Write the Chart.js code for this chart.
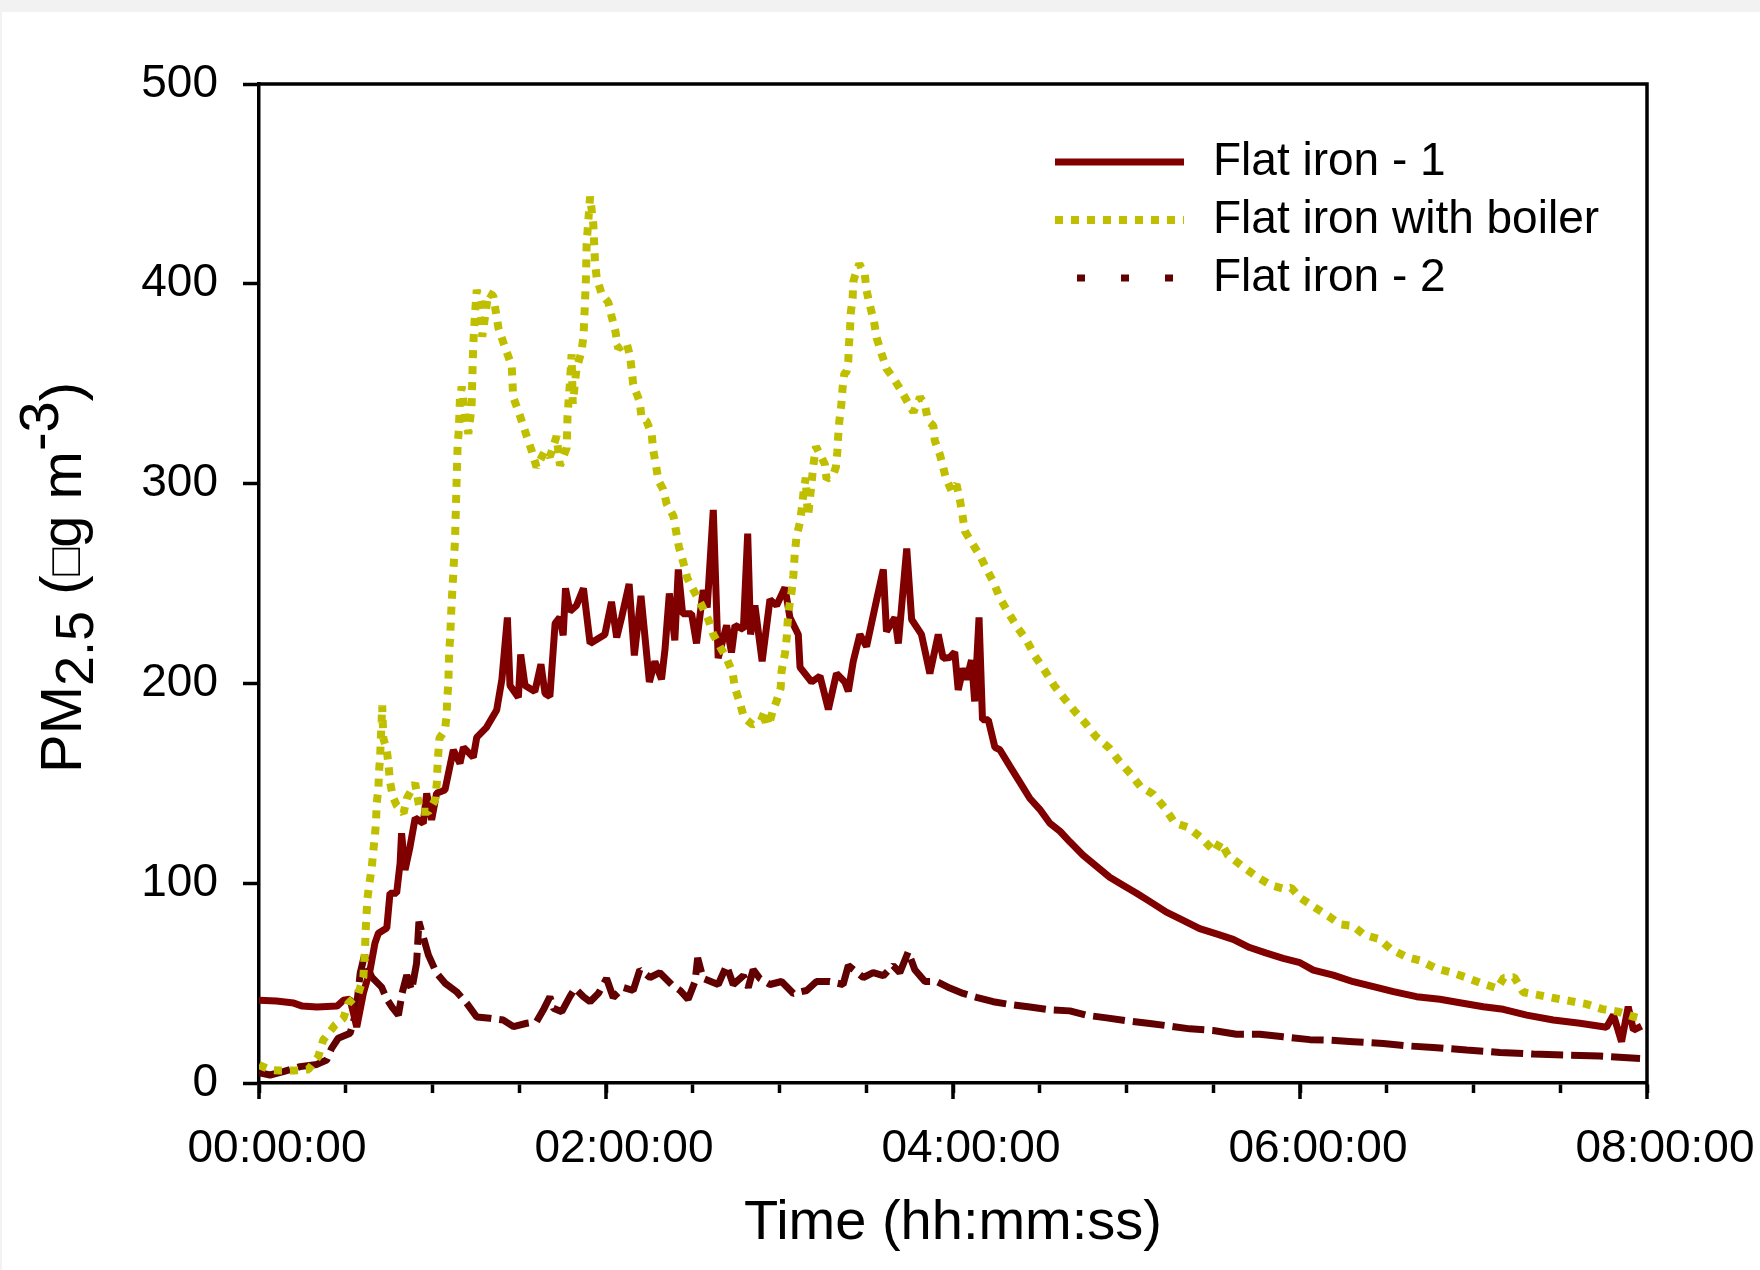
<!DOCTYPE html>
<html>
<head>
<meta charset="utf-8">
<script src="https://cdn.jsdelivr.net/npm/chart.js@4.4.1/dist/chart.umd.min.js"></script>
<style>
  html, body { margin: 0; padding: 0; background: #f2f2f2; }
  #wrap { position: absolute; left: 2px; top: 12px; width: 1758px; height: 1258px; background: #fff; }
</style>
</head>
<body>
<div id="wrap"><canvas id="chart" width="1758" height="1258"></canvas></div>
<script>
const seriesNames = ['Flat iron - 1', 'Flat iron with boiler', 'Flat iron - 2'];
const timeTickLabels = ['00:00:00', '02:00:00', '04:00:00', '06:00:00', '08:00:00'];

// minutes since start / PM2.5 values
const ironOneMinutes = [0, 6, 12, 15, 20, 27, 29.2, 31.5, 33.8, 36.1, 38.4, 40.1, 41.3, 44.2, 45.3, 47.6, 48.8, 49.3, 50.5, 52.2, 54, 56.8, 58, 59.7, 61.4, 64.3, 67.2, 69.5, 70.7, 74.1, 75.3, 78.7, 82.2, 84, 85.9, 86.8, 89.7, 90.5, 92, 95.4, 97.5, 98.9, 100.6, 102.4, 104, 105.2, 106, 107.5, 109.8, 112.2, 114.5, 117.9, 119.6, 121.9, 123.7, 125.4, 128, 129.8, 132.1, 135, 136.9, 139.2, 140.4, 141.9, 143.8, 145, 146.5, 149.6, 151.3, 153.6, 155, 157.1, 158.8, 161.7, 163.4, 164.6, 167.5, 169, 170, 171.5, 174, 176.7, 179, 181.9, 183.6, 186.5, 187.1, 191.1, 194, 196.9, 199.7, 202.6, 203.8, 205.5, 207.8, 210.1, 213.6, 215.9, 217, 219.9, 221.1, 224, 225.7, 229.1, 232, 234.9, 236.6, 238.9, 240.6, 241.8, 243.5, 244.7, 246.4, 247.5, 249, 250.2, 252.2, 254.5, 256.2, 259.6, 263.1, 266.6, 270, 273.5, 277, 280.4, 285, 289.6, 294.2, 298.8, 303.5, 308, 313.8, 319.6, 325.3, 331.1, 336.9, 342.6, 348.4, 354.2, 360, 364.6, 371.5, 378.4, 385.4, 392.3, 400.3, 408.4, 415.3, 423.4, 430.3, 438.4, 447.6, 456.8, 466, 468.4, 471.2, 473.5, 475.3, 478.1];
const ironOneValues = [41.4, 41, 40, 38.5, 38, 38.5, 41.4, 42, 28, 45, 56.5, 70, 75, 77.6, 95, 95, 110, 125, 106.6, 118, 132.6, 130, 145, 131.7, 145, 146.6, 166.7, 160, 168, 163, 173, 178, 186.7, 202, 233, 199, 193, 214.5, 199, 196, 209.6, 195, 193.5, 230, 233, 224, 247.6, 236, 239, 247.6, 220, 223, 224.5, 240.8, 223, 233, 249.7, 214, 243.8, 200.7, 211, 202, 217, 245, 221.5, 257, 234.8, 234.8, 220, 246.7, 238, 286.8, 212.6, 229, 215.5, 229, 227, 275, 224.5, 239, 211, 242, 239, 248, 233, 224.5, 208, 200.7, 203.7, 187, 205, 200.7, 196, 211, 224.5, 218.5, 242, 257, 226, 233, 220, 267.5, 232, 224.5, 205, 224.5, 212.6, 213, 215.7, 196.7, 207.5, 202, 211.6, 191, 233, 181.8, 181.8, 168, 166.8, 158.7, 150.6, 142.4, 137, 130, 126, 120.7, 114, 108.5, 103, 99, 95, 90.9, 85.5, 81.4, 77.3, 74.6, 71.9, 67.8, 65, 62.4, 60.2, 56.5, 54, 50.7, 48.2, 45.7, 43.2, 41.9, 40.2, 38.2, 36.9, 34, 31.5, 29.9, 27.9, 34, 20.7, 38.2, 26.5, 28.5];

const boilerMinutes = [0, 4, 7.3, 11.9, 17.1, 20.5, 22.2, 26.3, 29.2, 30.9, 34.4, 36.1, 36.7, 36.9, 37.5, 38.2, 39, 39.5, 40.1, 40.5, 40.7, 41.3, 41.5, 41.9, 42.1, 42.4, 42.6, 43, 44.2, 44.8, 45.3, 46.3, 47.6, 50, 51.1, 54, 55.7, 58.6, 60.9, 61.5, 61.7, 62, 62.4, 64.3, 64.9, 65.1, 65.5, 65.6, 65.8, 66.1, 66.6, 67.2, 67.8, 68.1, 68.4, 68.7, 69.1, 69.5, 70.1, 71.2, 72.4, 73.5, 73.8, 74.1, 74.7, 75.3, 76.4, 77.2, 79.3, 81, 82.8, 84.5, 87.4, 87.9, 89.7, 92.6, 94.3, 96, 98.9, 100.6, 102.9, 104.1, 106.4, 106.7, 107.5, 108.1, 108.5, 109.8, 111.5, 112.2, 112.7, 113.1, 113.3, 114.5, 115.6, 116.2, 116.8, 118.5, 119, 120.8, 121.9, 123.3, 124.2, 127.1, 128.3, 128.9, 129.4, 131.7, 132.3, 134, 135.8, 136.3, 137.3, 138.1, 139.8, 141, 143.3, 144.2, 145.2, 146.7, 148.1, 150.8, 153, 155.4, 157.1, 158.8, 161.7, 163.8, 164.6, 166.3, 167.7, 170.7, 173.6, 175, 176.3, 177.6, 179, 180.4, 180.7, 181.9, 182.5, 182.8, 183.4, 184.2, 184.8, 185.3, 185.9, 187.1, 187.9, 188.4, 189.1, 189.4, 189.9, 191.7, 192.6, 195.7, 196.3, 198.6, 199.5, 200, 200.3, 200.7, 201.4, 201.8, 202.4, 203.2, 203.8, 204, 204.4, 204.6, 205.3, 205.5, 206.1, 207.6, 209.5, 210.1, 211.3, 212.7, 213.6, 215.3, 217, 219.3, 221.6, 224.5, 226.3, 228.6, 230.3, 231.4, 233.2, 233.7, 235.5, 237.5, 239.5, 241.2, 242.4, 243.3, 244.1, 246.7, 249.6, 251.6, 253.9, 256.2, 259.1, 262.3, 265.4, 268.3, 271.8, 275, 278.4, 281.9, 285.6, 289.3, 294, 297.3, 301.5, 304.8, 309.2, 313.2, 316.7, 321.3, 325.9, 330.5, 332.5, 335.1, 340.1, 345.2, 349.9, 354.7, 357, 360, 364.8, 369.8, 373.8, 378.2, 382.2, 387.3, 391.4, 396.7, 401.7, 407, 412.2, 417.3, 422.8, 428.2, 430.5, 434.1, 437.2, 442.6, 448.2, 453.6, 459.1, 464.5, 470, 475.3, 478.5];
const boilerValues = [9, 6.5, 6.2, 6.2, 6.8, 13.2, 21.5, 29, 32.4, 39.9, 44.9, 53.2, 68.2, 76.6, 92.4, 100, 108, 115.8, 124, 131.6, 140, 147.5, 155.8, 163.4, 171.7, 180.8, 189, 172.5, 166.6, 159, 150.8, 143.3, 139, 135, 142.4, 150, 135.8, 135.8, 141.6, 150, 157.5, 165, 172.5, 176.6, 184, 192.5, 200, 208, 216.7, 222.7, 240, 255, 272.5, 288.6, 304.7, 319.5, 326.7, 342.8, 348.6, 334, 325, 338, 354.5, 369.7, 385, 397, 389.6, 373.5, 395.4, 394, 377.9, 370.6, 358.9, 343.3, 336.3, 323.7, 316.4, 308.2, 316.4, 313.5, 323.7, 309, 317.9, 334, 350, 364.7, 340, 357.4, 366, 373.5, 389.6, 404, 420, 443.7, 430, 410.7, 402.8, 394.9, 394, 390.7, 383.9, 375.9, 367.6, 370.5, 364, 356.6, 349.7, 340.8, 332.8, 331.3, 324.8, 317, 309, 301.7, 297, 289.8, 283.8, 276.4, 268.4, 260.7, 252.7, 245.2, 239.3, 231.9, 224.5, 220, 212.6, 205.2, 197.7, 190.3, 182.9, 179.3, 181.4, 186.5, 179, 185.9, 191.2, 197.7, 206, 215, 223, 230.4, 238.7, 246.1, 254.1, 265.4, 273.4, 280.9, 289.8, 297.2, 303, 292.7, 283.8, 309, 318.6, 309.7, 302.2, 304.6, 308.2, 315.9, 323.9, 331.3, 339.7, 347.7, 355, 356, 361.6, 369.3, 377.4, 384.8, 393, 401, 404, 410, 404.7, 396.7, 389, 381, 373, 365, 357.5, 353, 347.7, 340.2, 335.8, 343.2, 339.4, 331.3, 329, 321.5, 314.4, 303, 296.3, 299.6, 291.9, 283.8, 276.2, 270, 263.2, 257.2, 251, 242.8, 235.5, 227.9, 221.7, 213.8, 206.2, 198.9, 192.6, 186.4, 180.4, 173.6, 167.7, 161.4, 154.6, 148.4, 144.6, 137.8, 130.2, 128, 122.6, 115.8, 120.7, 114, 108.5, 103.1, 99, 97.1, 97.7, 92.8, 88.2, 83.6, 79.4, 78.7, 74.1, 72.1, 67, 63.2, 61.2, 57.4, 55.4, 52.9, 49.9, 47.4, 52.7, 52.9, 45.4, 44, 42.4, 41, 39.5, 37, 35.7, 33.2, 32];

const ironTwoMinutes = [0, 3.8, 8.4, 14.2, 20, 23.4, 25.1, 27.4, 31.5, 33.5, 35, 36.5, 37.5, 39, 42.4, 44.2, 46, 48.2, 49.5, 51.1, 52.8, 54.5, 55.3, 58.6, 61.4, 64.3, 68.3, 71.8, 75.3, 79.9, 84.5, 88, 92.6, 96, 98.3, 100.6, 101.8, 104.7, 107.5, 109.3, 112.2, 114.5, 117.4, 120.2, 122.5, 126, 129.4, 131.7, 135.2, 138.6, 142.7, 145.6, 148.4, 150.8, 151.7, 153.6, 158.8, 161.7, 164, 167.5, 169.2, 170.9, 173.2, 176.7, 180.7, 184.8, 189.4, 192.8, 197.4, 202, 203.8, 209, 212.4, 215.9, 219.3, 221.6, 224.5, 226.8, 230.3, 234.3, 238.9, 243.5, 248.1, 253.9, 259.6, 266.6, 273.5, 280.4, 286.2, 293.1, 300, 308.1, 315, 321.9, 330, 338, 346.1, 354.2, 363.4, 369.2, 378.4, 388.8, 398, 406.1, 417.6, 429.2, 440.7, 452.2, 463.7, 477.6];
const ironTwoValues = [5.2, 4, 5.7, 8.2, 9.3, 11.5, 17.3, 22.4, 24.9, 35, 55, 64, 58, 53, 48, 42, 38, 34, 45, 54, 46.5, 60, 80.7, 64, 55, 50, 45.7, 40, 33, 32.4, 31.5, 28.2, 29.9, 30.7, 36.5, 43.2, 37.4, 35.7, 43.2, 47.4, 43.2, 40.7, 44.9, 52.3, 42.8, 47.8, 46.3, 56.7, 52.8, 55.2, 49.3, 46.3, 41.9, 50.8, 62.6, 52.3, 49.3, 58.8, 49.3, 53.7, 47.8, 56.7, 52.3, 49.3, 50.8, 44.8, 46.3, 50.8, 50.8, 49.3, 58.8, 52.8, 55.2, 53.7, 58.8, 55.2, 65.6, 56.7, 50.8, 50.8, 47.5, 44.8, 42.9, 40.7, 39.3, 38, 36.6, 36.1, 33.9, 32.6, 31.2, 29.8, 28.5, 27.1, 26.3, 24.4, 24.4, 23.1, 21.7, 21.5, 20.7, 19.8, 18.5, 17.8, 16.5, 15.3, 14.5, 14, 13.5, 12.3];

const majorTickMinutes = [0, 120, 240, 360, 480];
const legendDashes = [[], [8, 8], [8, 36]];
const legendDashOffsets = [0, 0, 22];

const fontFamily = "'Liberation Sans', Arial, sans-serif";
Chart.defaults.font.family = fontFamily;
Chart.defaults.color = '#000';

const toPoints = (mins, vals) => mins.map((m, i) => ({ x: m, y: vals[i] }));

const framePlugin = {
  id: 'frame',
  afterDraw(chart) {
    const { ctx, chartArea: a, scales } = chart;
    ctx.save();
    ctx.strokeStyle = '#000';
    ctx.lineWidth = 3.5;
    ctx.beginPath();
    majorTickMinutes.forEach(m => {
      const px = scales.x.getPixelForValue(m);
      ctx.moveTo(px, a.bottom);
      ctx.lineTo(px, a.bottom + 16);
    });
    ctx.moveTo(a.left - 1.75, a.top);
    ctx.lineTo(a.right, a.top);
    ctx.lineTo(a.right, a.bottom + 1.75);
    ctx.stroke();
    ctx.restore();
  }
};

const yTitlePlugin = {
  id: 'yTitle',
  afterDraw(chart) {
    const { ctx, chartArea: a } = chart;
    const parts = [
      { text: 'PM', size: 58, shift: 0 },
      { text: '2.5', size: 54, shift: 12 },
      { text: ' (', size: 58, shift: 0 },
      { text: '\u25A1', size: 46, shift: -1 },
      { text: 'g m', size: 58, shift: 0 },
      { text: '-3', size: 56, shift: -23 },
      { text: ')', size: 58, shift: 0 }
    ];
    ctx.save();
    ctx.translate(79, (a.top + a.bottom) / 2 - 6);
    ctx.rotate(-Math.PI / 2);
    let total = 0;
    parts.forEach(p => {
      ctx.font = p.size + 'px ' + fontFamily;
      p.w = ctx.measureText(p.text).width;
      total += p.w;
    });
    let x = -total / 2;
    ctx.fillStyle = '#000';
    ctx.textBaseline = 'alphabetic';
    parts.forEach(p => {
      ctx.font = p.size + 'px ' + fontFamily;
      ctx.fillText(p.text, x, p.shift);
      x += p.w;
    });
    ctx.restore();
  }
};

const legendPlugin = {
  id: 'innerLegend',
  afterDraw(chart) {
    const ctx = chart.ctx;
    ctx.save();
    chart.data.datasets.forEach((ds, i) => {
      const y = 150 + i * 58;
      ctx.beginPath();
      ctx.setLineDash(legendDashes[i]);
      ctx.lineDashOffset = legendDashOffsets[i];
      ctx.lineWidth = ds.borderWidth;
      ctx.strokeStyle = ds.borderColor;
      ctx.moveTo(1053, y);
      ctx.lineTo(1182, y);
      ctx.stroke();
      ctx.setLineDash([]);
      ctx.fillStyle = '#000';
      ctx.font = '46px ' + fontFamily;
      ctx.textBaseline = 'middle';
      ctx.fillText(ds.label, 1211, y);
    });
    ctx.restore();
  }
};

new Chart(document.getElementById('chart'), {
  type: 'line',
  data: {
    datasets: [
      {
        label: seriesNames[0],
        data: toPoints(ironOneMinutes, ironOneValues),
        borderColor: '#800000',
        borderWidth: 7,
        order: 2
      },
      {
        label: seriesNames[1],
        data: toPoints(boilerMinutes, boilerValues),
        borderColor: '#bfbf00',
        borderWidth: 8,
        borderDash: [8, 8],
        order: 1
      },
      {
        label: seriesNames[2],
        data: toPoints(ironTwoMinutes, ironTwoValues),
        borderColor: '#600000',
        borderWidth: 7,
        borderDash: [32, 8],
        order: 3
      }
    ]
  },
  options: {
    responsive: false,
    animation: false,
    devicePixelRatio: 1,
    events: [],
    layout: { padding: { top: 72, right: 113, left: 0, bottom: 0 } },
    elements: { point: { radius: 0 }, line: { tension: 0, fill: false, borderJoinStyle: 'bevel' } },
    plugins: { legend: { display: false }, tooltip: { enabled: false } },
    scales: {
      x: {
        type: 'linear',
        min: 0,
        max: 480,
        ticks: {
          stepSize: 30,
          autoSkip: false,
          maxRotation: 0,
          padding: 29,
          labelOffset: 18,
          font: { size: 46 },
          callback: v => (v % 120 === 0 ? timeTickLabels[v / 120] : '')
        },
        grid: { drawOnChartArea: false, tickLength: 10, tickWidth: 3.5, tickColor: '#000' },
        border: { display: true, color: '#000', width: 3.5 },
        title: { display: true, text: 'Time (hh:mm:ss)', font: { size: 56 }, padding: { top: 0, bottom: 13 } },
        afterFit: s => { s.height = 187; s.paddingLeft = 0; s.paddingRight = 0; }
      },
      y: {
        min: 0,
        max: 500,
        ticks: { stepSize: 100, padding: 25, font: { size: 46 } },
        grid: { drawOnChartArea: false, tickLength: 16, tickWidth: 3.5, tickColor: '#000' },
        border: { display: true, color: '#000', width: 3.5 },
        afterFit: s => { s.width = 257; s.paddingTop = 0; s.paddingBottom = 0; }
      }
    }
  },
  plugins: [framePlugin, yTitlePlugin, legendPlugin]
});
</script>
</body>
</html>
